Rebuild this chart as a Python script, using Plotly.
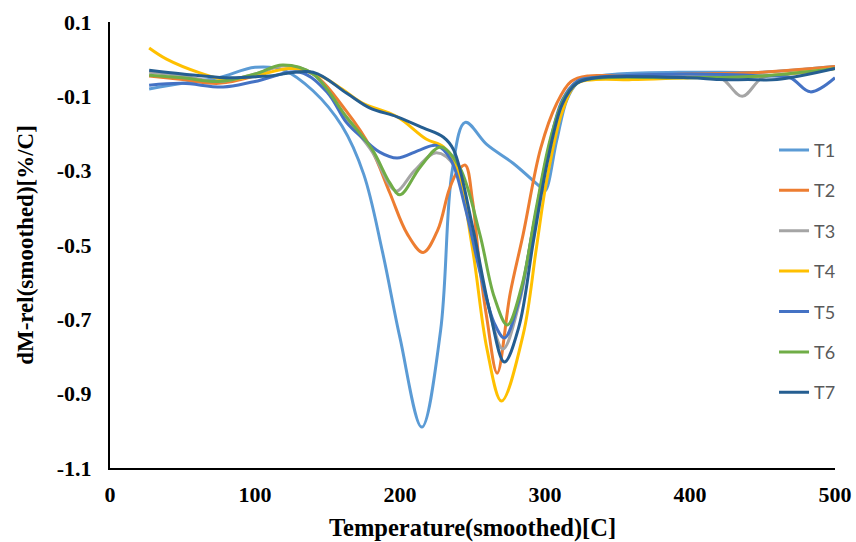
import plotly.graph_objects as go

names = ["T1", "T2", "T3", "T4", "T5", "T6", "T7"]
colors = ["#5B9BD5", "#ED7D31", "#A5A5A5", "#FFC000", "#4472C4", "#70AD47", "#255E91"]

t1_x = [27, 50, 75, 100, 120, 140, 160, 175, 188, 200, 215, 228, 236, 245, 260, 278, 297, 300, 308, 315, 322, 330, 350, 400, 450, 500]
t1_y = [-0.08, -0.065, -0.05, -0.022, -0.03, -0.085, -0.18, -0.31, -0.52, -0.75, -0.99, -0.73, -0.30, -0.17, -0.23, -0.28, -0.345, -0.355, -0.22, -0.11, -0.065, -0.05, -0.04, -0.035, -0.035, -0.02]

t2_x = [27, 50, 75, 100, 118, 140, 163, 180, 193, 205, 216, 226, 234, 240, 245, 250, 255, 260, 267, 276, 285, 297, 308, 318, 330, 350, 400, 450, 500]
t2_y = [-0.045, -0.055, -0.065, -0.045, -0.018, -0.04, -0.14, -0.24, -0.36, -0.47, -0.52, -0.46, -0.35, -0.30, -0.285, -0.38, -0.56, -0.70, -0.845, -0.63, -0.47, -0.24, -0.12, -0.06, -0.045, -0.045, -0.04, -0.035, -0.02]

t3_x = [27, 50, 75, 100, 120, 140, 163, 181, 193, 198, 210, 225, 238, 250, 260, 271, 282, 292, 302, 312, 322, 335, 360, 400, 421, 436, 450, 470, 500]
t3_y = [-0.035, -0.045, -0.06, -0.04, -0.018, -0.04, -0.16, -0.25, -0.34, -0.355, -0.30, -0.252, -0.29, -0.47, -0.65, -0.78, -0.66, -0.45, -0.26, -0.12, -0.06, -0.05, -0.05, -0.045, -0.05, -0.10, -0.05, -0.04, -0.025]

t4_x = [27, 39, 62, 80, 100, 125, 145, 160, 174, 198, 218, 230, 239, 250, 260, 270, 285, 294, 301, 312, 322, 335, 360, 400, 450, 500]
t4_y = [0.03, 0.0, -0.037, -0.055, -0.045, -0.025, -0.045, -0.08, -0.118, -0.155, -0.215, -0.236, -0.29, -0.51, -0.78, -0.92, -0.74, -0.51, -0.33, -0.14, -0.065, -0.055, -0.055, -0.05, -0.045, -0.025]

t5_x = [27, 50, 78, 100, 131, 150, 163, 175, 186, 198, 214, 225, 235, 245, 255, 265, 272, 282, 292, 302, 312, 322, 332, 350, 400, 450, 469, 483, 500]
t5_y = [-0.07, -0.065, -0.075, -0.06, -0.035, -0.09, -0.17, -0.215, -0.25, -0.266, -0.244, -0.232, -0.27, -0.40, -0.57, -0.71, -0.75, -0.65, -0.45, -0.25, -0.11, -0.06, -0.05, -0.045, -0.04, -0.045, -0.05, -0.088, -0.05]

t6_x = [27, 50, 75, 100, 119, 140, 163, 181, 193, 200, 214, 228, 241, 255, 265, 274, 284, 294, 304, 314, 324, 340, 400, 450, 500]
t6_y = [-0.043, -0.05, -0.06, -0.04, -0.016, -0.04, -0.155, -0.244, -0.333, -0.365, -0.29, -0.236, -0.29, -0.47, -0.64, -0.715, -0.61, -0.40, -0.21, -0.10, -0.06, -0.05, -0.05, -0.045, -0.025]

t7_x = [27, 50, 80, 110, 140, 163, 179, 198, 216, 230, 237, 250, 262, 272, 282, 292, 302, 312, 322, 335, 400, 420, 440, 460, 500]
t7_y = [-0.03, -0.04, -0.05, -0.045, -0.035, -0.091, -0.131, -0.155, -0.185, -0.21, -0.244, -0.45, -0.68, -0.815, -0.72, -0.49, -0.27, -0.12, -0.065, -0.05, -0.05, -0.055, -0.055, -0.055, -0.025]

series_x = [t1_x, t2_x, t3_x, t4_x, t5_x, t6_x, t7_x]
series_y = [t1_y, t2_y, t3_y, t4_y, t5_y, t6_y, t7_y]

x_ticks = [0, 100, 200, 300, 400, 500]
y_ticks = [0.1, -0.1, -0.3, -0.5, -0.7, -0.9, -1.1]

fig = go.Figure()
for n, c, xs, ys in zip(names, colors, series_x, series_y):
    fig.add_trace(go.Scatter(
        x=xs, y=ys, name=n, mode="lines", legendgroup=n,
        line=dict(color=c, width=3, shape="spline", smoothing=1.0),
    ))

axis_font = dict(family="Liberation Serif", size=22, color="black", weight="bold")

fig.update_layout(
    width=856, height=542,
    margin=dict(l=110, r=21, t=22, b=74),
    paper_bgcolor="white", plot_bgcolor="white",
    showlegend=True,
    legend=dict(
        x=0.9159, y=0.754, xanchor="left", yanchor="top",
        font=dict(family="Lato", size=18, color="#595959"),
        tracegroupgap=14, bgcolor="rgba(0,0,0,0)",
        itemwidth=30,
    ),
    xaxis=dict(
        range=[0, 500], tickvals=x_ticks, ticktext=[str(v) for v in x_ticks],
        showgrid=False, zeroline=False, showline=True, linecolor="black", linewidth=2,
        ticks="", tickfont=axis_font, ticklabelstandoff=6, automargin=False,
        title=dict(text="Temperature(smoothed)[C]",
                   font=dict(family="Liberation Serif", size=24.5, color="black", weight="bold"),
                   standoff=18),
    ),
    yaxis=dict(
        range=[-1.1, 0.1], tickvals=y_ticks, ticktext=[f"{v:.1f}" for v in y_ticks],
        showgrid=False, zeroline=False, showline=True, linecolor="black", linewidth=2,
        ticks="", tickfont=axis_font, ticklabelstandoff=12, automargin=False,
        title=dict(text="dM-rel(smoothed)[%/C]",
                   font=dict(family="Liberation Serif", size=23, color="black", weight="bold"),
                   standoff=17),
    ),
)

# remove the default page margin so the 856x542 figure fills the window exactly
fig.write_html("out.html", config={"displayModeBar": False},
               post_script="document.body.style.margin='0';")
